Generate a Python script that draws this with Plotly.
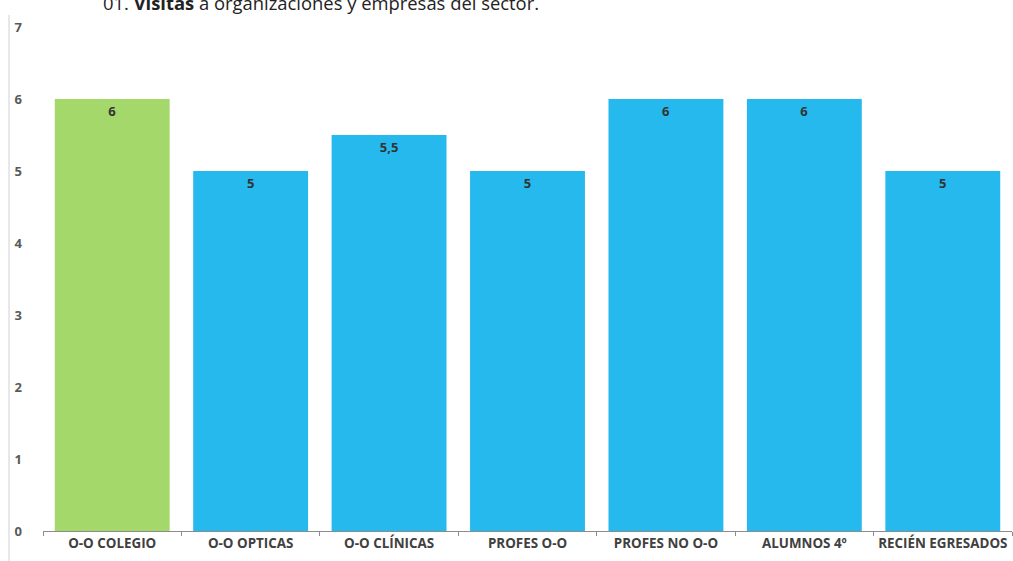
import plotly.graph_objects as go

categories = ["O-O COLEGIO", "O-O OPTICAS", "O-O CLÍNICAS", "PROFES O-O",
              "PROFES NO O-O", "ALUMNOS 4º", "RECIÉN EGRESADOS"]
values = [6, 5, 5.5, 5, 6, 6, 5]
value_labels = ["6", "5", "5,5", "5", "6", "6", "5"]
colors = ["#A4D86B", "#25B9EE", "#25B9EE", "#25B9EE", "#25B9EE", "#25B9EE", "#25B9EE"]
y_ticks = [0, 1, 2, 3, 4, 5, 6, 7]

fig = go.Figure(go.Bar(
    x=categories, y=values,
    marker=dict(color=colors, line=dict(width=0)),
    text=value_labels, textposition="inside", insidetextanchor="end",
    textfont=dict(family="Open Sans", size=13, color="#333333", weight="bold"),
    textangle=0,
    width=0.83,
))

L, R, T, B = 43, 1, 27, 30
W, H = 1013, 561
pw, ph = W - L - R, H - T - B

fig.update_layout(
    width=W, height=H,
    margin=dict(l=L, r=R, t=T, b=B),
    plot_bgcolor="white", paper_bgcolor="white",
    showlegend=False,
    xaxis=dict(
        automargin=False, tickangle=0,
        showline=True, linecolor="#8c8c8c", linewidth=1,
        ticks="outside", tickson="boundaries", ticklen=4, tickcolor="#8c8c8c",
        tickfont=dict(family="Open Sans", size=13.4, color="#404040", weight="bold"),
        showgrid=False,
    ),
    yaxis=dict(
        automargin=False,
        range=[0, 7], tickvals=y_ticks, showgrid=False, zeroline=False,
        showline=False, ticks="",
        tickfont=dict(family="Open Sans", size=13, color="#595959", weight="bold"),
        ticklabelstandoff=20,
    ),
)

fig.add_annotation(
    xref="paper", yref="paper",
    x=(101 - L) / pw, y=(H - B - 3) / ph,
    xanchor="left", yanchor="middle", showarrow=False,
    text="01. <b>Visitas</b> a organizaciones y empresas del sector.",
    font=dict(family="Open Sans", size=18.4, color="#222222"),
)

fig.add_shape(
    type="line", xref="paper", yref="paper",
    x0=(9 - L) / pw, x1=(9 - L) / pw,
    y0=(H - B - H) / ph, y1=(H - B - 15) / ph,
    line=dict(color="#d0d0d0", width=1),
)

fig.write_html(
    "out.html",
    config={"displayModeBar": False},
    post_script="document.body.style.margin='0';document.body.style.overflow='hidden';",
)
